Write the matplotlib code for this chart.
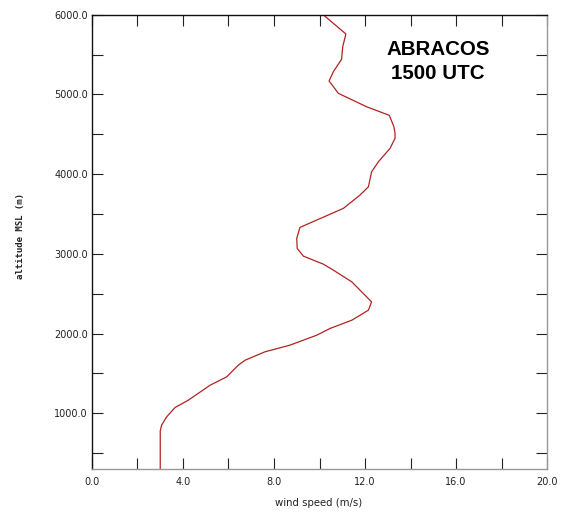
import matplotlib.pyplot as plt
from matplotlib.ticker import MultipleLocator

# wind speed profile
speed = [3.0, 3.0, 3.06, 3.28, 3.65, 4.23, 5.19, 5.92, 6.43, 6.73, 7.60, 8.70,
         9.88, 10.46, 11.42, 12.15, 12.29, 11.78, 11.42, 10.61, 10.17, 9.29,
         9.02, 9.0, 9.14, 11.05, 11.78, 12.15, 12.29, 12.59, 13.1, 13.32,
         13.32, 13.27, 13.07, 12.07, 10.83, 10.42, 10.61, 10.97, 11.02, 11.16,
         10.16]
alt = [300, 778, 850, 954, 1071, 1163, 1351, 1456, 1603, 1665, 1770, 1854,
       1979, 2063, 2167, 2293, 2397, 2544, 2648, 2795, 2870, 2971,
       3068, 3193, 3331, 3570, 3737, 3841, 4029, 4155, 4323, 4448,
       4511, 4594, 4737, 4845, 5013, 5168, 5285, 5440, 5598, 5758,
       6000]

xticks = [0, 4, 8, 12, 16, 20]
yticks = [1000, 2000, 3000, 4000, 5000, 6000]

fig = plt.figure(figsize=(5.63, 5.15), dpi=100)
ax = fig.add_axes([0.1634, 0.0893, 0.8082, 0.8822])

ax.plot(speed, alt, c='#b22222', lw=0.9)

ax.set_xlim(0, 20)
ax.set_ylim(300, 6000)
ax.set_xticks(xticks)
ax.set_yticks(yticks)
ax.set_xticklabels(['%.1f' % v for v in xticks])
ax.set_yticklabels(['%.1f' % v for v in yticks])
ax.xaxis.set_minor_locator(MultipleLocator(2))
ax.yaxis.set_minor_locator(MultipleLocator(500))

for which in ['major', 'minor']:
    ax.tick_params(axis='both', which=which, direction='in', length=8, width=0.8,
                   top=True, right=True, color='#222222')
ax.tick_params(axis='x', which='major', pad=6, labelsize=7, labelcolor='#222222')
ax.tick_params(axis='y', which='major', pad=3, labelsize=7, labelcolor='#222222')
for lab in ax.get_xticklabels() + ax.get_yticklabels():
    lab.set_family('DejaVu Sans')

ax.spines['left'].set_color('#111111')
ax.spines['top'].set_color('#111111')
ax.spines['bottom'].set_color('#999999')
ax.spines['right'].set_color('#999999')
for s in ax.spines.values():
    s.set_linewidth(1.0)

ax.set_xlabel('wind speed (m/s)', family='DejaVu Sans', fontsize=7.3,
              color='#222222', va='center')
ax.xaxis.set_label_coords(0.497, -0.075)
ax.set_ylabel('altitude MSL (m)', family='DejaVu Sans Mono', fontsize=6.5,
              fontweight='bold', color='#222222', va='center')
ax.yaxis.set_label_coords(-0.158, 0.513)

ax.text(0.76, 0.897, 'ABRACOS\n1500 UTC', transform=ax.transAxes,
        ha='center', va='center', fontsize=14.8, fontweight='bold',
        family='Liberation Sans', linespacing=1.38)

plt.savefig('out.png', dpi=100)
